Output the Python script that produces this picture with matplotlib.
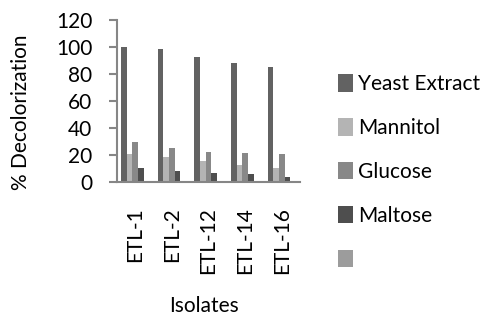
import matplotlib.pyplot as plt
import numpy as np

# Daten
isolates = ['ETL-1', 'ETL-2', 'ETL-12', 'ETL-14', 'ETL-16']
yeast_extract = [100, 98.3, 92.4, 88, 85]
mannitol = [20.5, 18.5, 15.3, 12.3, 10.1]
glucose = [30, 25, 22, 21.2, 20.5]
maltose = [10.4, 8, 6.4, 5.7, 3.4]
leer = [0, 0, 0, 0, 0]  # fuenfte, leere Serie

series = [yeast_extract, mannitol, glucose, maltose, leer]
labels = ['Yeast Extract', 'Mannitol', 'Glucose', 'Maltose', '']
colors = ['#626262', '#b4b4b4', '#888888', '#4e4e4e', '#9c9c9c']

plt.rcParams['font.family'] = ['Lato', 'DejaVu Sans']
fs = 15
fig = plt.figure(figsize=(5, 3.24), dpi=100)
ax = fig.add_axes([0.234, 0.438, 0.366, 0.5])

x = np.arange(len(isolates))
n = len(series)
w = 1 / (n + 1.5)
handles = []
for i, (vals, c) in enumerate(zip(series, colors)):
    b = ax.bar(x + (i - (n - 1) / 2) * w, vals, width=w, color=c)
    handles.append(b)

ax.set_xlim(-0.5, len(isolates) - 0.5)
ax.set_ylim(0, 120)
ax.set_yticks(range(0, 121, 20))
ax.set_xticks(x)
ax.set_xticklabels(isolates, rotation=90, fontsize=fs)
ax.tick_params(axis='y', labelsize=fs, length=5.8, width=1.5, color='#868686', pad=12)
ax.tick_params(axis='x', length=0, pad=18)
for s in ['top', 'right']:
    ax.spines[s].set_visible(False)
for s in ['left', 'bottom']:
    ax.spines[s].set_color('#868686')
    ax.spines[s].set_linewidth(1.5)

# Achsentitel
fig.text(21 / 500, 1 - 112 / 324, '% Decolorization', rotation=90,
         ha='center', va='center', fontsize=fs)
fig.text(204 / 500, 1 - 306 / 324, 'Isolates', ha='center', va='center', fontsize=fs)

fig.legend(handles, labels, loc='center left', bbox_to_anchor=(0.676, 1 - 172 / 324),
           frameon=False, fontsize=fs, labelspacing=1.15, borderpad=0, borderaxespad=0,
           handlelength=0.7, handleheight=0.9, handletextpad=0.25)

plt.savefig('out.png', dpi=100)
